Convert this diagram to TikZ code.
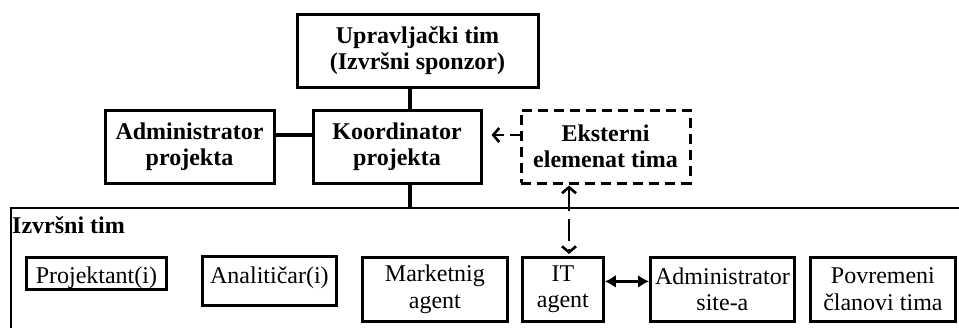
\documentclass[tikz,border=0pt]{standalone}
\usepackage{fontspec}
\setmainfont{Liberation Serif}
\usetikzlibrary{arrows.meta}
\tikzset{
  bx/.style={draw, line width=2.8pt, align=center, inner sep=0pt, font=\fontsize{24}{26.5}\selectfont},
  lead/.style={bx, line width=3pt, font=\fontsize{24}{26.5}\selectfont\bfseries, minimum height=73pt},
  extbox/.style={lead, dash pattern=on 10pt off 6pt},
  mem/.style={bx, anchor=north west},
  frm/.style={draw, line width=2.4pt, anchor=north west, inner sep=0pt},
  ln/.style={line width=3.6pt},
  dsh/.style={line width=2.6pt, dash pattern=on 10pt off 6pt},
  barb/.tip={Straight Barb[length=6pt,width=14pt,line width=2.6pt]},
  dbl/.style={line width=2.8pt, {Latex[length=11pt,width=13pt]}-{Latex[length=11pt,width=13pt]}},
}
\begin{document}
\begin{tikzpicture}[x=1pt, y=-1pt]
  \useasboundingbox (0,0) rectangle (959,327);
  \clip (0,0) rectangle (959,327);
  % upper part
  \node[lead, minimum width=241pt] (upr) at (417.5,50.5) {Upravljački tim\\(Izvršni sponzor)};
  \node[lead, minimum width=168pt] (koord) at (397,146.5) {Koordinator\\projekta};
  \node[lead, minimum width=169pt] (admp) at (189.5,146.5) {Administrator\\projekta};
  \node[extbox, minimum width=169pt] (ekst) at (605.5,146.5) {Eksterni\\elemenat tima};
  % executive team frame
  \node[frm, minimum width=1000pt, minimum height=160pt] (izv) at (10,207) {};
  \node[anchor=base west, inner sep=0pt, font=\fontsize{24}{26.5}\selectfont\bfseries] (izvl) at (12,233) {Izvršni tim};
  \node[mem, minimum width=140pt, text height=26pt, text depth=6pt] (proj) at (25,256) {Projektant(i)};
  \node[mem, minimum width=134pt, text height=27pt, text depth=22pt] (anal) at (201,255) {Analitičar(i)};
  \node[mem, minimum width=145pt, minimum height=64pt] (mark) at (361,256) {Marketnig\\agent};
  \node[mem, minimum width=81pt, minimum height=64pt] (it) at (521,256) {IT\\agent};
  \node[mem, minimum width=144pt, minimum height=64pt] (adms) at (649,256) {Administrator\\site-a};
  \node[mem, minimum width=145pt, minimum height=64pt] (pov) at (809,256) {Povremeni\\članovi tima};
  % connectors
  \draw[ln] ([xshift=-7.5pt]upr.south) -- ([xshift=-7.5pt]upr.south |- koord.north);
  \draw[ln] ([xshift=13pt]koord.south) -- ([xshift=13pt]koord.south |- izv.north);
  \draw[ln] ([yshift=11.5pt]admp.east) -- ([yshift=11.5pt]admp.east -| koord.west);
  \draw[dsh, -{barb}, shorten >=9pt] ([yshift=11.5pt]ekst.west) -- ([yshift=11.5pt]ekst.west -| koord.east);
  \draw[dsh, dash pattern=on 22pt off 8pt, {barb}-{barb}, shorten <=1pt, shorten >=2pt] ([xshift=-36.5pt]ekst.south) -- ([xshift=-36.5pt]ekst.south |- it.north);
  \draw[dbl] ([yshift=8pt]it.east) -- ([yshift=8pt]it.east -| adms.west);
\end{tikzpicture}
\end{document}
